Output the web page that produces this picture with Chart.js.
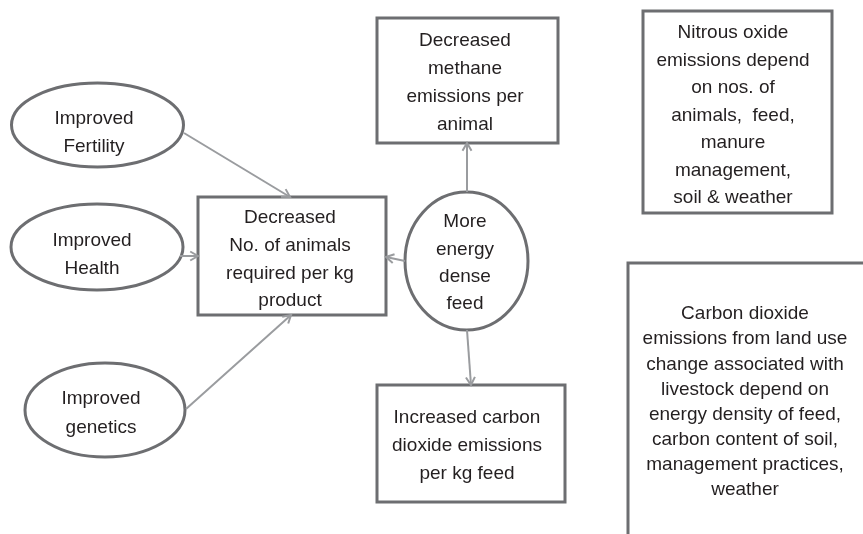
<!DOCTYPE html>
<html>
<head>
<meta charset="utf-8">
<script src="https://cdn.jsdelivr.net/npm/chart.js@4.4.0/dist/chart.umd.min.js"></script>
<style>
  body { margin: 0; background: #fff; }
  #flow { display: block; }
</style>
</head>
<body>
<canvas id="flow" width="863" height="534"></canvas>
<script>
// diagram nodes (text, shape, centre and half-size in diagram units)
const nodeLines = [
  ["Improved", "Fertility"],
  ["Improved", "Health"],
  ["Improved", "genetics"],
  ["Decreased", "No. of animals", "required per kg", "product"],
  ["Decreased", "methane", "emissions per", "animal"],
  ["More", "energy", "dense", "feed"],
  ["Increased carbon", "dioxide emissions", "per kg feed"],
  ["Nitrous oxide", "emissions depend", "on nos. of", "animals,  feed,", "manure", "management,", "soil & weather"],
  ["Carbon dioxide", "emissions from land use", "change associated with", "livestock depend on",
   "energy density of feed,", "carbon content of soil,", "management practices,", "weather"]
];
const nodeShape = ["ellipse", "ellipse", "ellipse", "box", "box", "ellipse", "box", "box", "box"];
const nodeCx = [97.5, 97, 105, 292, 467.5, 466.5, 471, 737.5, 764];
const nodeCy = [125, 247, 410, 256, 80.5, 261, 443.5, 112, 431.5];
const nodeRx = [86, 86, 80, 94, 90.5, 61.5, 94, 94.5, 136];
const nodeRy = [42, 43, 47, 59, 62.5, 69, 58.5, 101, 168.5];
const textCx = [94, 92, 101, 290, 465, 465, 467, 733, 745];
const textCy = [132, 254, 412, 258.5, 82, 262, 445, 114.5, 401];
const lineGap = [28, 28, 29, 27.7, 28, 27.3, 28, 27.5, 25.1];

// arrows: start and end points
const arrowX0 = [184, 180, 186, 467, 405, 467];
const arrowY0 = [133, 256, 409, 192, 261, 330];
const arrowX1 = [290, 198, 291, 467, 386, 471];
const arrowY1 = [197, 256, 315, 143, 257, 385];

const borderGrey = "#6d6e71";
const arrowGrey = "#9a9c9f";
const textColor = "#231f20";

const arrowSets = arrowX0.map((x, i) => ({
  data: [{ x: x, y: arrowY0[i] }, { x: arrowX1[i], y: arrowY1[i] }],
  showLine: true,
  borderColor: arrowGrey,
  borderWidth: 2,
  pointRadius: 0,
  fill: false,
}));

const shapesPlugin = {
  id: "shapes",
  beforeDatasetsDraw(chart) {
    const { ctx, scales: { x, y } } = chart;
    ctx.save();
    ctx.strokeStyle = borderGrey;
    ctx.lineWidth = 3;
    nodeShape.forEach((shape, i) => {
      const cx = x.getPixelForValue(nodeCx[i]);
      const cy = y.getPixelForValue(nodeCy[i]);
      const rx = x.getPixelForValue(nodeCx[i] + nodeRx[i]) - cx;
      const ry = y.getPixelForValue(nodeCy[i] + nodeRy[i]) - cy;
      ctx.beginPath();
      if (shape === "ellipse") {
        ctx.ellipse(cx, cy, Math.abs(rx), Math.abs(ry), 0, 0, Math.PI * 2);
      } else {
        ctx.rect(cx - Math.abs(rx), cy - Math.abs(ry), Math.abs(rx) * 2, Math.abs(ry) * 2);
      }
      ctx.stroke();
    });
    ctx.restore();
  },
  afterDatasetsDraw(chart) {
    const { ctx, scales: { x, y } } = chart;
    ctx.save();
    // arrow heads (open V)
    ctx.strokeStyle = arrowGrey;
    ctx.lineWidth = 2;
    arrowX0.forEach((x0, i) => {
      const px0 = x.getPixelForValue(x0), py0 = y.getPixelForValue(arrowY0[i]);
      const px1 = x.getPixelForValue(arrowX1[i]), py1 = y.getPixelForValue(arrowY1[i]);
      const a = Math.atan2(py1 - py0, px1 - px0);
      const len = 9, spread = Math.PI / 6;
      ctx.beginPath();
      ctx.moveTo(px1 - len * Math.cos(a - spread), py1 - len * Math.sin(a - spread));
      ctx.lineTo(px1, py1);
      ctx.lineTo(px1 - len * Math.cos(a + spread), py1 - len * Math.sin(a + spread));
      ctx.stroke();
    });
    // node text
    ctx.fillStyle = textColor;
    ctx.font = "19px 'Liberation Sans', Arial, sans-serif";
    ctx.textAlign = "center";
    ctx.textBaseline = "middle";
    nodeLines.forEach((lines, i) => {
      const tx = x.getPixelForValue(textCx[i]);
      const first = textCy[i] - (lines.length - 1) / 2 * lineGap[i];
      lines.forEach((line, j) => {
        ctx.fillText(line, tx, y.getPixelForValue(first + j * lineGap[i]) + 1);
      });
    });
    ctx.restore();
  }
};

new Chart(document.getElementById("flow").getContext("2d"), {
  type: "scatter",
  data: { datasets: arrowSets },
  options: {
    responsive: false,
    animation: false,
    layout: { padding: 0 },
    scales: {
      x: { type: "linear", min: 0, max: 863, display: false },
      y: { type: "linear", min: 0, max: 534, reverse: true, display: false },
    },
    plugins: {
      legend: { display: false },
      title: { display: false },
      tooltip: { enabled: false },
    },
  },
  plugins: [shapesPlugin],
});
</script>
</body>
</html>
